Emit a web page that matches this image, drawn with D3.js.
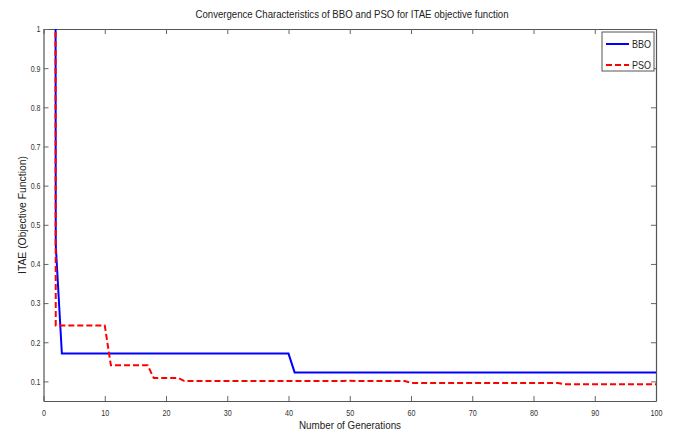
<!DOCTYPE html>
<meta charset="utf-8">
<style>
    body { margin: 0; background: #fff; }
    svg { display: block; font-family: "Liberation Sans", Arial, sans-serif; }
    .tick text { fill: #333; font-size: 9px; }
    .tick line { stroke: #666; }
    .domain { stroke: #555; }
</style>
<svg width="673" height="433"></svg>
<script src="https://d3js.org/d3.v7.min.js"></script>
<script>
    // break points of each curve (generation, ITAE)
    var bboGen = [1, 2, 3, 40, 41, 100];
    var bboVal = [20, 0.448, 0.171, 0.171, 0.123, 0.123];
    var psoGen = [1, 2, 10, 11, 17, 18, 22, 23, 49, 50, 51, 59, 60, 84, 85, 100];
    var psoVal = [20, 0.243, 0.243, 0.141, 0.141, 0.109, 0.109, 0.101, 0.101, 0.102, 0.101, 0.101, 0.096, 0.096, 0.093, 0.093];
    var xTicks = [0, 10, 20, 30, 40, 50, 60, 70, 80, 90, 100];
    var yTicks = [0.1, 0.2, 0.3, 0.4, 0.5, 0.6, 0.7, 0.8, 0.9, 1];
    var seriesNames = ["BBO", "PSO"];

    var svg = d3.select("svg");
    var pLeft = 43.5, pRight = 656, pTop = 29, pBottom = 401;

    var x = d3.scaleLinear().domain([0, 100]).range([pLeft, pRight]);
    var y = d3.scaleLinear().domain([0.05, 1]).range([pBottom, pTop]);

    svg.append("defs").append("clipPath").attr("id", "clip")
        .append("rect").attr("x", pLeft).attr("y", pTop)
        .attr("width", pRight - pLeft).attr("height", pBottom - pTop);

    // narrow, matlab-ish tick labels
    function squeeze(sel) {
        sel.selectAll(".tick text").each(function () {
            var s = this.textContent;
            if (!s) return;
            var w = 0;
            for (var i = 0; i < s.length; i++) w += s[i] === "." ? 1.8 : 4;
            d3.select(this).attr("textLength", w).attr("lengthAdjust", "spacingAndGlyphs");
        });
    }

    // axes (ticks pointing inward)
    svg.append("g").attr("transform", "translate(0," + pBottom + ")")
        .call(d3.axisBottom(x).tickValues(xTicks).tickSizeInner(-5).tickSizeOuter(0).tickPadding(9).tickFormat(d3.format("d")))
        .call(squeeze);
    svg.append("g").attr("transform", "translate(0," + pTop + ")")
        .call(d3.axisTop(x).tickValues(xTicks).tickSizeInner(-5).tickSizeOuter(0).tickFormat(""));
    svg.append("g").attr("transform", "translate(" + pLeft + ",0)")
        .call(d3.axisLeft(y).tickValues(yTicks).tickSizeInner(-5).tickSizeOuter(0).tickPadding(3)
            .tickFormat(function (d) { return d === 1 ? "1" : d3.format(".1f")(d); }))
        .call(squeeze);
    svg.append("g").attr("transform", "translate(" + pRight + ",0)")
        .call(d3.axisRight(y).tickValues(yTicks).tickSizeInner(-5).tickSizeOuter(0).tickFormat(""));
    svg.selectAll(".domain").attr("stroke-width", 1.2);

    var line = d3.line().x(function (d) { return x(d[0]); }).y(function (d) { return y(d[1]); });
    var plot = svg.append("g").attr("clip-path", "url(#clip)");

    plot.append("path")
        .datum(bboGen.map(function (g, i) { return [g, bboVal[i]]; }))
        .attr("d", line).attr("fill", "none")
        .attr("stroke", "#0000ff").attr("stroke-width", 2);
    plot.append("path")
        .datum(psoGen.map(function (g, i) { return [g, psoVal[i]]; }))
        .attr("d", line).attr("fill", "none")
        .attr("stroke", "#ff0000").attr("stroke-width", 2)
        .attr("stroke-dasharray", "6,3");

    // titles
    svg.append("text").attr("x", 352).attr("y", 18).attr("text-anchor", "middle")
        .attr("font-size", 11).attr("fill", "#222")
        .attr("textLength", 313).attr("lengthAdjust", "spacingAndGlyphs")
        .text("Convergence Characteristics of BBO and PSO for ITAE objective function");
    svg.append("text").attr("x", 350).attr("y", 429).attr("text-anchor", "middle")
        .attr("font-size", 11).attr("fill", "#222")
        .attr("textLength", 102).attr("lengthAdjust", "spacingAndGlyphs")
        .text("Number of Generations");
    svg.append("text").attr("transform", "translate(26,215) rotate(-90)").attr("text-anchor", "middle")
        .attr("font-size", 11).attr("fill", "#222")
        .attr("textLength", 118).attr("lengthAdjust", "spacingAndGlyphs")
        .text("ITAE (Objective Function)");

    // legend
    var lg = svg.append("g").attr("transform", "translate(602,32)");
    lg.append("rect").attr("width", 52).attr("height", 39)
        .attr("fill", "#fff").attr("stroke", "#555");
    var colors = ["#0000ff", "#ff0000"], dashes = [null, "6,3"];
    seriesNames.forEach(function (name, i) {
        var yy = 12 + i * 21;
        lg.append("line").attr("x1", 4).attr("x2", 27).attr("y1", yy).attr("y2", yy)
            .attr("stroke", colors[i]).attr("stroke-width", 2)
            .attr("stroke-dasharray", dashes[i]);
        lg.append("text").attr("x", 30).attr("y", yy + 4).attr("font-size", 11)
            .attr("fill", "#222").attr("textLength", 19).attr("lengthAdjust", "spacingAndGlyphs")
            .text(name);
    });
</script>
